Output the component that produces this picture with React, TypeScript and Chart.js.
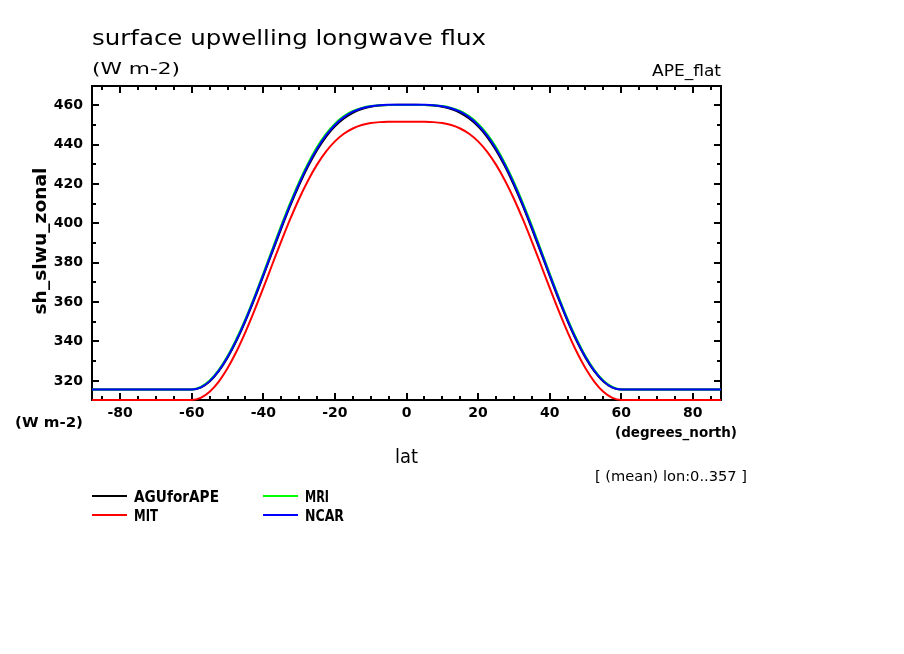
import React, { useEffect, useRef } from "react";
import { Chart, registerables } from "chart.js";

Chart.register(...registerables);

// ---- data ----
const LAT = [
  -87.86, -85, -80, -75, -70, -65, -62.5,
  -60, -57.5, -55, -52.5, -50, -47.5, -45, -42.5, -40, -37.5, -35, -32.5, -30, -27.5, -25, -22.5, -20, -17.5, -15, -12.5, -10, -7.5, -5, -2.5,
  0,
  2.5, 5, 7.5, 10, 12.5, 15, 17.5, 20, 22.5, 25, 27.5, 30, 32.5, 35, 37.5, 40, 42.5, 45, 47.5, 50, 52.5, 55, 57.5, 60,
  62.5, 65, 70, 75, 80, 85, 87.86,
];

const AGU = [
  315.62, 315.62, 315.62, 315.62, 315.62, 315.62, 315.62,
  315.62, 316.6, 319.7, 324.8, 331.8, 340.4, 350.4, 361.5, 373.3, 385.4, 397.3, 408.8, 419.4, 428.9, 437.1, 443.9, 449.2, 453.2, 456.1, 458.0, 459.2, 459.85, 460.1, 460.15,
  460.15,
  460.15, 460.1, 459.85, 459.2, 458.0, 456.1, 453.2, 449.2, 443.9, 437.1, 428.9, 419.4, 408.8, 397.3, 385.4, 373.3, 361.5, 350.4, 340.4, 331.8, 324.8, 319.7, 316.6, 315.62,
  315.62, 315.62, 315.62, 315.62, 315.62, 315.62, 315.62,
];

const MIT = [
  310.3, 310.3, 310.3, 310.3, 310.3, 310.3, 310.3,
  310.3, 311.35, 314.44, 319.51, 326.4, 334.9, 344.77, 355.67, 367.23, 379.09, 390.83, 402.07, 412.48, 421.77, 429.78, 436.38, 441.57, 445.44, 448.13, 449.87, 450.87, 451.36, 451.55, 451.6,
  451.6,
  451.6, 451.55, 451.36, 450.87, 449.87, 448.13, 445.44, 441.57, 436.38, 429.78, 421.77, 412.48, 402.07, 390.83, 379.09, 367.23, 355.67, 344.77, 334.9, 326.4, 319.51, 314.44, 311.35, 310.3,
  310.3, 310.3, 310.3, 310.3, 310.3, 310.3, 310.3,
];

const MRI = [
  315.6, 315.6, 315.6, 315.6, 315.6, 315.6, 315.6,
  315.6, 316.9, 320.2, 325.5, 332.6, 341.4, 351.5, 362.7, 374.6, 386.8, 398.9, 410.4, 421.0, 430.5, 438.7, 445.4, 450.6, 454.4, 457.0, 458.6, 459.5, 459.9, 460.06, 460.1,
  460.1,
  460.1, 460.06, 459.9, 459.5, 458.6, 457.0, 454.4, 450.6, 445.4, 438.7, 430.5, 421.0, 410.4, 398.9, 386.8, 374.6, 362.7, 351.5, 341.4, 332.6, 325.5, 320.2, 316.9, 315.6,
  315.6, 315.6, 315.6, 315.6, 315.6, 315.6, 315.6,
];

const NCAR = [
  315.64, 315.64, 315.64, 315.64, 315.64, 315.64, 315.64,
  315.64, 316.71, 319.88, 325.06, 332.11, 340.81, 350.9, 362.05, 373.88, 386.01, 398.02, 409.52, 420.17, 429.68, 437.87, 444.62, 449.93, 453.89, 456.64, 458.42, 459.45, 459.95, 460.14, 460.19,
  460.19,
  460.19, 460.14, 459.95, 459.45, 458.42, 456.64, 453.89, 449.93, 444.62, 437.87, 429.68, 420.17, 409.52, 398.02, 386.01, 373.88, 362.05, 350.9, 340.81, 332.11, 325.06, 319.88, 316.71, 315.64,
  315.64, 315.64, 315.64, 315.64, 315.64, 315.64, 315.64,
];

const SERIES_NAMES = ["AGUforAPE", "MIT", "MRI", "NCAR"];
const SERIES_VALUES = [AGU, MIT, MRI, NCAR];
const SERIES_COLORS = ["#000000", "#ff0000", "#00ff00", "#0000ff"];

const X_TICKS = [-80, -60, -40, -20, 0, 20, 40, 60, 80];
const X_MINOR = [-85, -75, -70, -65, -55, -50, -45, -35, -30, -25, -15, -10, -5, 5, 10, 15, 25, 30, 35, 45, 50, 55, 65, 70, 75, 85];
const Y_TICKS = [320, 340, 360, 380, 400, 420, 440, 460];
const Y_MINOR = [330, 350, 370, 390, 410, 430, 450];

const X_MIN = -87.86;
const X_MAX = 87.86;
const Y_MIN = 310.3;
const Y_MAX = 469.7;

const TITLE = "surface upwelling longwave flux";
const UNITS = "(W m-2)";
const DATASET_NAME = "APE_flat";
const Y_TITLE = "sh_slwu_zonal";
const X_TITLE = "lat";
const X_UNITS = "(degrees_north)";
const NOTE = "[ (mean) lon:0..357 ]";

const THIN = "DejaVu Sans";

function fitText(
  ctx: CanvasRenderingContext2D,
  text: string,
  x: number,
  y: number,
  w: number,
  font: string,
  align: "left" | "right" | "center",
  rotate = false
) {
  ctx.save();
  ctx.font = font;
  ctx.fillStyle = "#000";
  ctx.textBaseline = "alphabetic";
  ctx.textAlign = "left";
  const m = ctx.measureText(text).width;
  const s = w / m;
  ctx.translate(x, y);
  if (rotate) ctx.rotate(-Math.PI / 2);
  const ox = align === "left" ? 0 : align === "right" ? -w : -w / 2;
  ctx.translate(ox, 0);
  ctx.scale(s, 1);
  ctx.fillText(text, 0, 0);
  ctx.restore();
}

const framePlugin = {
  id: "fermiFrame",
  beforeDatasetsDraw(chart: any) {
    const { ctx, chartArea: a, scales } = chart;
    const xs = scales.x;
    const ys = scales.y;
    ctx.save();
    ctx.strokeStyle = "#000";
    ctx.lineWidth = 2;
    ctx.strokeRect(a.left, a.top, a.right - a.left, a.bottom - a.top);
    ctx.beginPath();
    const tick = (vals: number[], len: number, horiz: boolean) => {
      for (const v of vals) {
        if (horiz) {
          const px = Math.round(xs.getPixelForValue(v));
          ctx.moveTo(px, a.bottom);
          ctx.lineTo(px, a.bottom - len);
          ctx.moveTo(px, a.top);
          ctx.lineTo(px, a.top + len);
        } else {
          const py = Math.round(ys.getPixelForValue(v));
          ctx.moveTo(a.left, py);
          ctx.lineTo(a.left + len, py);
          ctx.moveTo(a.right, py);
          ctx.lineTo(a.right - len, py);
        }
      }
    };
    tick(X_TICKS, 7, true);
    tick(X_MINOR, 4, true);
    tick(Y_TICKS, 7, false);
    tick(Y_MINOR, 4, false);
    ctx.stroke();
    ctx.restore();
  },
  afterDraw(chart: any) {
    const { ctx } = chart;
    fitText(ctx, TITLE, 92, 45, 394, `21px "${THIN}"`, "left");
    fitText(ctx, UNITS, 92, 74, 88, `16px "${THIN}"`, "left");
    fitText(ctx, DATASET_NAME, 721, 76, 69, `15px "${THIN}"`, "right");
    fitText(ctx, Y_TITLE, 46, 241, 147, `bold 17px "${THIN}"`, "center", true);
    fitText(ctx, UNITS, 15, 427, 68, `bold 14px "${THIN}"`, "left");
    fitText(ctx, X_UNITS, 615, 437, 122, `bold 14px "${THIN}"`, "left");
    fitText(ctx, X_TITLE, 395, 463, 23, `19px "${THIN}"`, "left");
    fitText(ctx, NOTE, 595, 481, 152, `14px "${THIN}"`, "left");

    // legend: two columns, column-major order
    const cols = [92, 263];
    const rows = [496, 515];
    const textW: Record<string, number> = { AGUforAPE: 85, MIT: 24, MRI: 24, NCAR: 39 };
    chart.data.datasets.forEach((ds: any, i: number) => {
      const col = Math.floor(i / 2);
      const row = i % 2;
      const lx = cols[col];
      const ly = rows[row];
      ctx.save();
      ctx.strokeStyle = ds.borderColor;
      ctx.lineWidth = 2;
      ctx.beginPath();
      ctx.moveTo(lx, ly);
      ctx.lineTo(lx + 35, ly);
      ctx.stroke();
      ctx.restore();
      const label = ds.label as string;
      const w = textW[label] ?? label.length * 9;
      fitText(ctx, label, lx + 42, ly + 6, w, `bold 15px "${THIN}"`, "left");
    });
  },
};

export default function App() {
  const canvasRef = useRef<HTMLCanvasElement | null>(null);

  useEffect(() => {
    const canvas = canvasRef.current;
    if (!canvas) return;
    const datasets = SERIES_NAMES.map((name, i) => ({
      label: name,
      data: LAT.map((lat, j) => ({ x: lat, y: SERIES_VALUES[i][j] })),
      borderColor: SERIES_COLORS[i],
      backgroundColor: SERIES_COLORS[i],
      borderWidth: 2,
      pointRadius: 0,
      fill: false,
      cubicInterpolationMode: "monotone" as const,
      clip: 4,
      order: SERIES_NAMES.length - i,
    }));
    const chart = new Chart(canvas, {
      type: "line",
      data: { datasets },
      options: {
        responsive: false,
        animation: false,
        devicePixelRatio: 1,
        layout: { padding: { left: 0, right: 183, top: 86, bottom: 0 } },
        plugins: {
          legend: { display: false },
          title: { display: false },
          tooltip: { enabled: false },
        },
        scales: {
          x: {
            type: "linear",
            min: X_MIN,
            max: X_MAX,
            grid: { display: false, drawTicks: false },
            border: { display: false },
            afterBuildTicks: (scale: any) => {
              scale.ticks = X_TICKS.map((value) => ({ value }));
            },
            afterFit: (scale: any) => {
              scale.height = 254;
            },
            ticks: {
              color: "#000",
              padding: 5,
              maxRotation: 0,
              autoSkip: false,
              font: { family: THIN, size: 14, weight: "bold" },
              callback: (v: any) => String(v),
            },
          },
          y: {
            type: "linear",
            min: Y_MIN,
            max: Y_MAX,
            grid: { display: false, drawTicks: false },
            border: { display: false },
            afterBuildTicks: (scale: any) => {
              scale.ticks = Y_TICKS.map((value) => ({ value }));
            },
            afterFit: (scale: any) => {
              scale.width = 92;
            },
            ticks: {
              color: "#000",
              padding: 9,
              autoSkip: false,
              font: { family: THIN, size: 14, weight: "bold" },
              callback: (v: any) => String(v),
            },
          },
        },
      },
      plugins: [framePlugin],
    });
    return () => chart.destroy();
  }, []);

  return (
    <div style={{ position: "fixed", left: 0, top: 0, width: 904, height: 654, background: "#fff" }}>
      <canvas ref={canvasRef} width={904} height={654} style={{ width: 904, height: 654, display: "block" }} />
    </div>
  );
}
